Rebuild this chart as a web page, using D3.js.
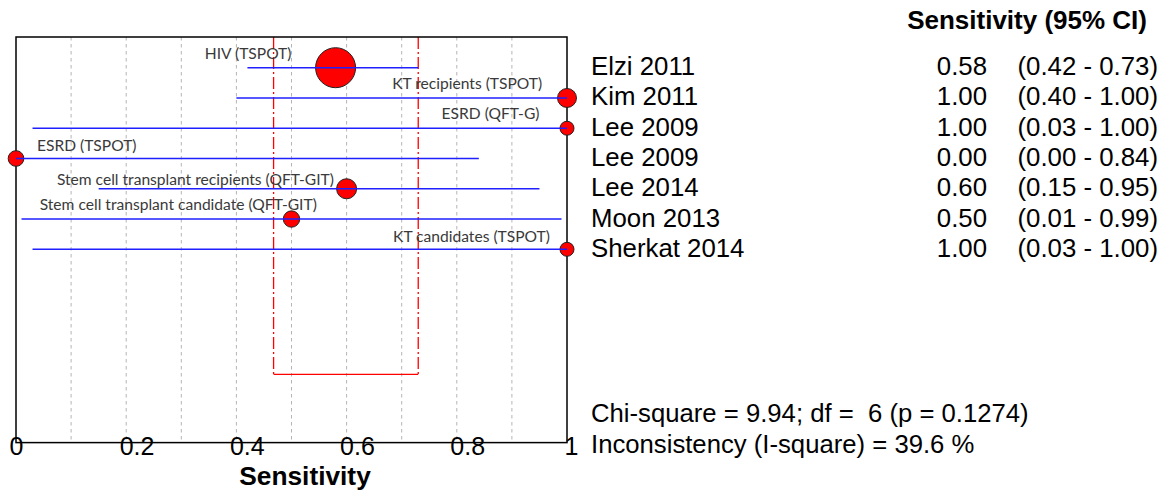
<!DOCTYPE html>
<html>
<head>
<meta charset="utf-8">
<script src="https://cdn.jsdelivr.net/npm/d3@7"></script>
<style>
  html, body { margin: 0; padding: 0; background: #fff; }
  svg { display: block; }
  text { white-space: pre; }
</style>
</head>
<body>
<svg id="chart" width="1166" height="493"></svg>
<script>
// ---- data ----
const studies = ["Elzi 2011", "Kim 2011", "Lee 2009", "Lee 2009", "Lee 2014", "Moon 2013", "Sherkat 2014"];
const subgroups = ["HIV (TSPOT)", "KT recipients (TSPOT)", "ESRD (QFT-G)", "ESRD (TSPOT)",
  "Stem cell transplant recipients (QFT-GIT)", "Stem cell transplant candidate (QFT-GIT)", "KT candidates (TSPOT)"];
const sensitivity = [0.58, 1.00, 1.00, 0.00, 0.60, 0.50, 1.00];
const ciLow = [0.42, 0.40, 0.03, 0.00, 0.15, 0.01, 0.03];
const ciHigh = [0.73, 1.00, 1.00, 0.84, 0.95, 0.99, 1.00];
const weights = [49.0, 11.0, 6.0, 7.5, 12.3, 8.2, 6.0]; // relative weight (%)
const labelAt = [0.5, 0.955, 0.95, 0.038, 0.577, 0.546, 0.969]; // label anchor on sensitivity scale
const labelAnchor = ["end", "end", "end", "start", "end", "end", "end"];
const pooledCI = [0.4675, 0.730];
const tickValues = [0, 0.2, 0.4, 0.6, 0.8, 1];
const tickLabels = ["0", "0.2", "0.4", "0.6", "0.8", "1"];
const gridValues = [0.1, 0.2, 0.3, 0.4, 0.5, 0.6, 0.7, 0.8, 0.9];
const headerText = "Sensitivity (95% CI)";
const axisTitle = "Sensitivity";
const statLines = ["Chi-square = 9.94; df =  6 (p = 0.1274)", "Inconsistency (I-square) = 39.6 %"];

// ---- layout ----
const svg = d3.select("#chart");
const plot = { left: 16, right: 567, top: 37, bottom: 442.6 };
const x = d3.scaleLinear().domain([0, 1]).range([plot.left, plot.right]);
const y = d3.scalePoint().domain(d3.range(studies.length)).range([67.7, 249.3]);
const r = d3.scaleSqrt().domain([0, 49]).range([0, 20]);
const fmt = d3.format(".2f");
const arial = "'Liberation Sans', Arial, sans-serif";
const labelFont = "Lato, 'Open Sans', sans-serif";

svg.append("rect").attr("width", 1166).attr("height", 493).attr("fill", "#fff");

// grid
svg.append("g").selectAll("line").data(gridValues).join("line")
  .attr("x1", d => x(d)).attr("x2", d => x(d))
  .attr("y1", plot.top).attr("y2", plot.bottom)
  .attr("stroke", "#b4b4b4").attr("stroke-width", 1).attr("stroke-dasharray", "3.5,3.5");

// pooled CI bracket
const bottomY = 374.4;
svg.append("g").selectAll("line").data(pooledCI).join("line")
  .attr("x1", d => x(d)).attr("x2", d => x(d))
  .attr("y1", plot.top).attr("y2", bottomY)
  .attr("stroke", "#ff0000").attr("stroke-width", 1.3).attr("stroke-dasharray", "12,3,2,3");
svg.append("line")
  .attr("x1", x(pooledCI[0])).attr("x2", x(pooledCI[1]))
  .attr("y1", bottomY).attr("y2", bottomY)
  .attr("stroke", "#ff0000").attr("stroke-width", 1.3);

// frame
svg.append("rect")
  .attr("x", plot.left).attr("y", plot.top)
  .attr("width", plot.right - plot.left).attr("height", plot.bottom - plot.top)
  .attr("fill", "none").attr("stroke", "#000").attr("stroke-width", 1.5);

const idx = d3.range(studies.length);

// points
svg.append("g").selectAll("circle").data(idx).join("circle")
  .attr("cx", i => x(sensitivity[i])).attr("cy", i => y(i))
  .attr("r", i => r(weights[i]))
  .attr("fill", "#ff0000").attr("stroke", "#222").attr("stroke-width", 1);

// CI lines
svg.append("g").selectAll("line").data(idx).join("line")
  .attr("x1", i => x(ciLow[i])).attr("x2", i => x(ciHigh[i]))
  .attr("y1", i => y(i)).attr("y2", i => y(i))
  .attr("stroke", "#1f1fff").attr("stroke-width", 1.4);

// subgroup labels
const labelDy = [-8.7, -8.7, -9.3, -7.6, -3.3, -9, -7.6];
svg.append("g").selectAll("text").data(idx).join("text")
  .attr("x", i => x(labelAt[i])).attr("y", i => y(i) + labelDy[i])
  .attr("text-anchor", i => labelAnchor[i])
  .attr("font-family", labelFont).attr("font-size", 15.6).attr("fill", "#3a3a3a")
  .text(i => subgroups[i]);

// axis
const axis = d3.axisBottom(x).tickValues(tickValues)
  .tickFormat((d, i) => tickLabels[i]).tickSize(0);
const gAxis = svg.append("g").attr("transform", `translate(0,${plot.bottom})`).call(axis);
gAxis.select(".domain").remove();
gAxis.selectAll("text")
  .attr("y", 12.4).attr("dy", 0)
  .attr("text-anchor", "start")
  .attr("dx", (d, i) => i === tickValues.length - 1 ? -3 : -7)
  .attr("font-family", arial).attr("font-size", 25).attr("fill", "#000");

svg.append("text").attr("x", 305).attr("y", 485).attr("text-anchor", "middle")
  .attr("font-family", arial).attr("font-size", 26.3).attr("font-weight", "bold")
  .text(axisTitle);

// right table
svg.append("text").attr("x", 1147).attr("y", 29.3).attr("text-anchor", "end")
  .attr("font-family", arial).attr("font-size", 26).attr("font-weight", "bold")
  .text(headerText);

const rows = svg.append("g").attr("font-family", arial).attr("font-size", 25.8).attr("fill", "#000");
rows.selectAll("text.name").data(idx).join("text").attr("class", "name")
  .attr("x", 591).attr("y", i => y(i) + 7.5).text(i => studies[i]);
rows.selectAll("text.est").data(idx).join("text").attr("class", "est")
  .attr("x", 987).attr("y", i => y(i) + 7.5).attr("text-anchor", "end")
  .text(i => fmt(sensitivity[i]));
rows.selectAll("text.ci").data(idx).join("text").attr("class", "ci")
  .attr("x", 1158).attr("y", i => y(i) + 7.5).attr("text-anchor", "end")
  .text(i => `(${fmt(ciLow[i])} - ${fmt(ciHigh[i])})`);

// statistics
svg.append("g").attr("font-family", arial).attr("font-size", 25.7)
  .selectAll("text").data(statLines).join("text")
  .attr("x", 591).attr("y", (d, i) => 421.7 + i * 31.6)
  .text(d => d);
</script>
</body>
</html>
